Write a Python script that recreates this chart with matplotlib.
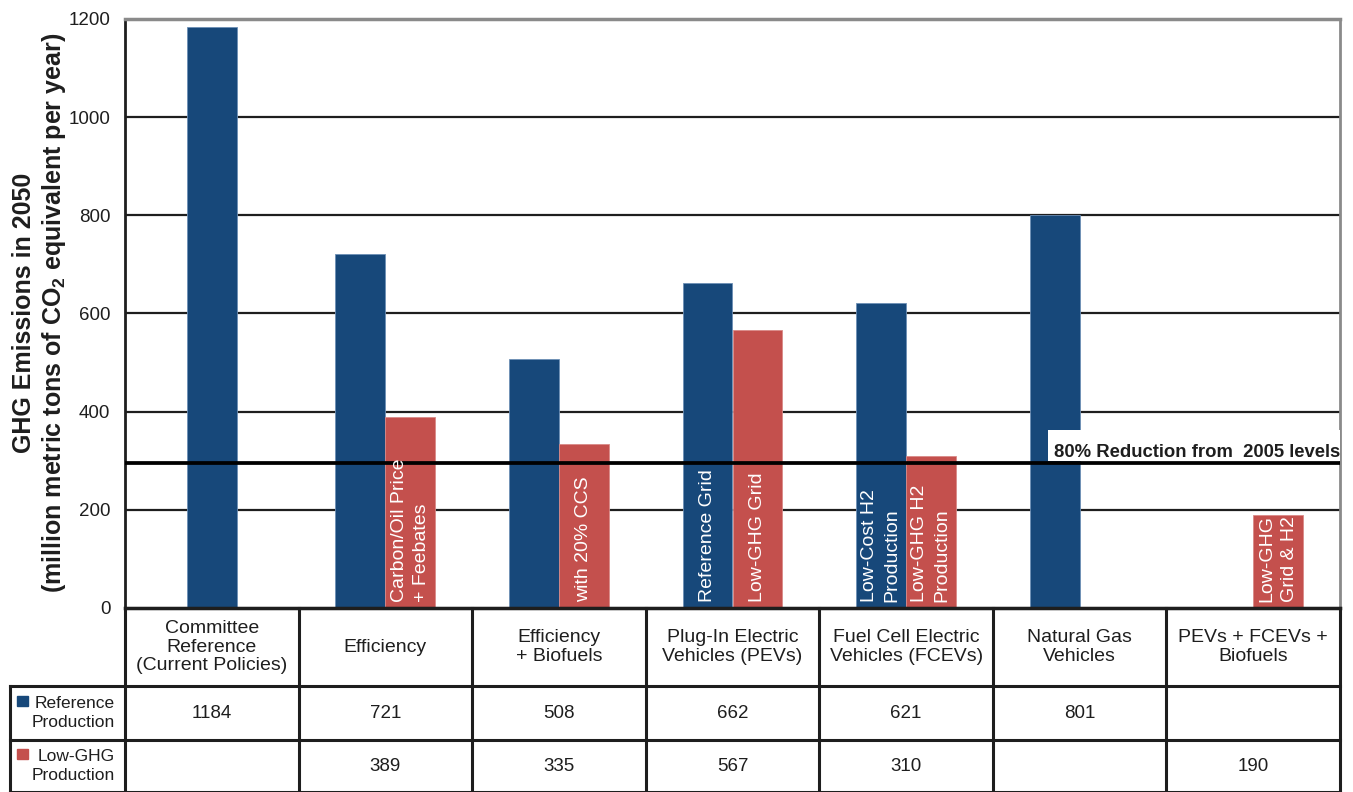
import matplotlib
matplotlib.use("Agg")
import matplotlib.pyplot as plt
from matplotlib.patches import Rectangle

plt.rcParams['font.family'] = ['Liberation Sans', 'DejaVu Sans']
plt.rcParams['mathtext.default'] = 'regular'

categories = ["Committee\nReference\n(Current Policies)", "Efficiency",
              "Efficiency\n+ Biofuels", "Plug-In Electric\nVehicles (PEVs)",
              "Fuel Cell Electric\nVehicles (FCEVs)", "Natural Gas\nVehicles",
              "PEVs + FCEVs +\nBiofuels"]
reference = [1184, 721, 508, 662, 621, 801, None]
low_ghg = [None, 389, 335, 567, 310, None, 190]
reference_labels = [None, None, None, "Reference Grid", "Low-Cost H2\nProduction", None, None]
low_ghg_labels = [None, "Carbon/Oil Price\n+ Feebates", "with 20% CCS", "Low-GHG Grid",
                  "Low-GHG H2\nProduction", None, "Low-GHG\nGrid & H2"]
series_names = ["Reference\nProduction", "Low-GHG\nProduction"]
target_value = 296
target_label = "80% Reduction from  2005 levels"
yticks = [0, 200, 400, 600, 800, 1000, 1200]

BLUE = "#17487A"
RED = "#C4504D"
DARK = "#1e1e1e"

W, H = 1353, 792
fig = plt.figure(figsize=(W / 100, H / 100), dpi=100)

# main axes (pixel layout)
ax_l, ax_r, ax_t, ax_b = 125, 1340, 19, 608
ax = fig.add_axes([ax_l / W, 1 - ax_b / H, (ax_r - ax_l) / W, (ax_b - ax_t) / H])
n = len(categories)
ax.set_xlim(0, n)
ax.set_ylim(0, 1200)
ax.set_yticks(yticks)
ax.set_xticks([])
ax.tick_params(axis='y', length=0, labelsize=13.5, pad=10.5, labelcolor=DARK)
for y in yticks[1:-1]:
    ax.axhline(y, color=DARK, lw=1.6, zorder=1)
ax.spines['top'].set_color('#8a8a8a')
ax.spines['top'].set_linewidth(2.5)
ax.spines['right'].set_color('#8a8a8a')
ax.spines['right'].set_linewidth(2)
ax.spines['left'].set_color(DARK)
ax.spines['left'].set_linewidth(2)
ax.spines['bottom'].set_color(DARK)
ax.spines['bottom'].set_linewidth(2.5)

bw = 0.288
for i in range(n):
    c = i + 0.5
    r, g = reference[i], low_ghg[i]
    if i == 0 and g is None:
        xr, xg = c, c + bw / 2
    else:
        xr, xg = c - bw / 2, c + bw / 2
    if r is not None:
        ax.bar(xr, r, width=bw, color=BLUE, zorder=2, edgecolor='#6d8fb5', linewidth=0.6)
        if reference_labels[i]:
            ax.annotate(reference_labels[i], (xr, 0), xytext=(0, 4), textcoords='offset points',
                        rotation=90, ha='center', va='bottom', multialignment='left',
                        color='white', fontsize=14, linespacing=1.4, zorder=4)
    if g is not None:
        ax.bar(xg, g, width=bw, color=RED, zorder=2, edgecolor='#d98a88', linewidth=0.6)
        if low_ghg_labels[i]:
            ax.annotate(low_ghg_labels[i], (xg, 0), xytext=(0, 4), textcoords='offset points',
                        rotation=90, ha='center', va='bottom', multialignment='left',
                        color='white', fontsize=14, linespacing=1.4, zorder=4)

ax.axhline(target_value, color='black', lw=2.7, zorder=3)
ax.add_patch(Rectangle((5.32, target_value + 4), n - 5.32, 62, facecolor='white',
                       edgecolor='none', zorder=4))
ax.text(5.35, 308, target_label, ha='left', va='baseline', fontsize=13.3,
        fontweight='bold', color=DARK, zorder=5)

fig.text(40 / W, 1 - 313 / H,
         "GHG Emissions in 2050\n(million metric tons of CO$_2$ equivalent per year)",
         rotation=90, ha='center', va='center', multialignment='center',
         fontsize=18, fontweight='bold', linespacing=1.2, color=DARK)

# table axes
tl, tr, tt, tb = 10, 1340, 608, 792
tax = fig.add_axes([tl / W, 1 - tb / H, (tr - tl) / W, (tb - tt) / H])
unit = (ax_r - ax_l) / n
x0 = -(ax_l - tl) / unit
tax.set_xlim(x0, n)
tax.set_ylim(tb, tt)
tax.axis('off')
lw = 2.2
tax.plot([0, n], [tt, tt], color=DARK, lw=lw, clip_on=False)
for y in (686, 740):
    tax.plot([x0, n], [y, y], color=DARK, lw=lw, clip_on=False)
tax.plot([x0, n], [tb, tb], color=DARK, lw=lw, clip_on=False)
for i in range(n + 1):
    tax.plot([i, i], [tt, tb], color=DARK, lw=lw, clip_on=False)
tax.plot([x0, x0], [686, tb], color=DARK, lw=lw, clip_on=False)

for i, lab in enumerate(categories):
    tax.text(i + 0.5, (tt + 686) / 2, lab, ha='center', va='center', fontsize=14,
             linespacing=1.15, color=DARK)
row_y = [(686 + 740) / 2, (740 + tb) / 2]
for j, (vals, col) in enumerate(((reference, BLUE), (low_ghg, RED))):
    for i, v in enumerate(vals):
        if v is not None:
            tax.text(i + 0.5, row_y[j], str(v), ha='center', va='center', fontsize=13.5,
                     color=DARK)
    tax.text(-0.058, row_y[j], series_names[j], ha='right', va='center', fontsize=12.5,
             linespacing=1.3, color=DARK)
    sq = 11 / unit
    tax.add_patch(Rectangle((x0 + 7 / unit, row_y[j] - 17), sq, 10, color=col, clip_on=False))

fig.savefig("out.png", dpi=100)
